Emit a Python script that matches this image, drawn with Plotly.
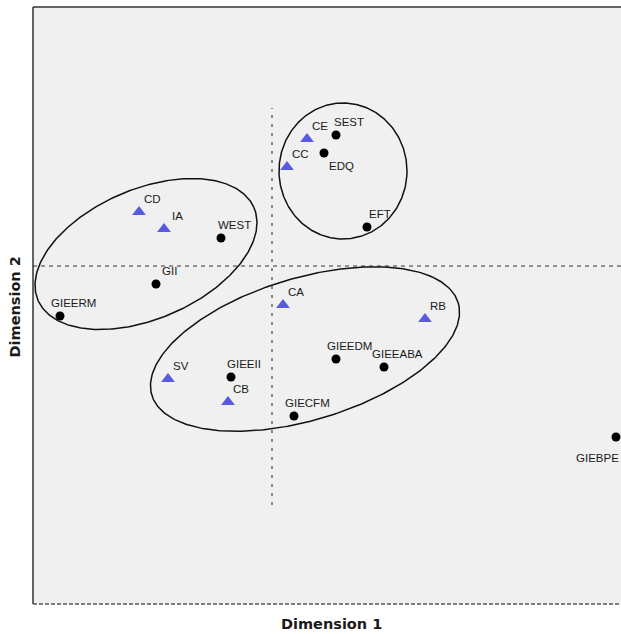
import numpy as np
import plotly.graph_objects as go

# ---- data: object-point coordinates (Dimension 1, Dimension 2) ----
circle_labels = ["WEST", "GII", "GIEERM", "SEST", "EDQ", "EFT", "GIEEDM",
                 "GIEEABA", "GIEEII", "GIECFM", "GIEBPE"]
circle_dim1 = [-0.51, -1.16, -2.12, 0.64, 0.52, 0.95, 0.64, 1.12, -0.41, 0.22, 3.44]
circle_dim2 = [0.28, -0.18, -0.50, 1.31, 1.13, 0.39, -0.93, -1.01, -1.11, -1.50, -1.71]

triangle_labels = ["CD", "IA", "CE", "CC", "CA", "RB", "SV", "CB"]
triangle_dim1 = [-1.33, -1.08, 0.35, 0.15, 0.11, 1.53, -1.04, -0.44]
triangle_dim2 = [0.54, 0.37, 1.27, 0.99, -0.39, -0.53, -1.13, -1.36]

# ---- styling / layout helpers (not data) ----
DEFAULT_SHIFT = (13, 13)
SHIFT_OVERRIDES = {"EDQ": (17, -13), "GIEBPE": (-19, -21)}

# group ellipses: centre x, centre y, semi-major, semi-minor, angle (deg)
ellipses = [
    (-1.26, 0.12, 1.175, 0.649, 23.2),
    (0.71, 0.95, 0.64, 0.68, 0.0),
    (0.33, -0.83, 1.60, 0.71, 16.8),
]

X_RANGE = [-2.39, 3.49]
Y_RANGE = [-3.38, 2.59]
VLINE_EXTENT = [-2.39, 1.58]

fig = go.Figure()

t = np.linspace(0, 2 * np.pi, 361)
for cx, cy, a, b, ang in ellipses:
    th = np.deg2rad(ang)
    ex = cx + a * np.cos(t) * np.cos(th) - b * np.sin(t) * np.sin(th)
    ey = cy + a * np.cos(t) * np.sin(th) + b * np.sin(t) * np.cos(th)
    fig.add_trace(go.Scatter(x=ex, y=ey, mode="lines",
                             line=dict(color="#111111", width=1.5),
                             hoverinfo="skip", showlegend=False))

fig.add_trace(go.Scatter(x=circle_dim1, y=circle_dim2, mode="markers",
                         marker=dict(symbol="circle", size=9, color="#000000"),
                         text=circle_labels, showlegend=False))
fig.add_trace(go.Scatter(x=triangle_dim1, y=triangle_dim2, mode="markers",
                         marker=dict(symbol="triangle-up", size=12, color="#5a5ae0",
                                     line=dict(width=0)),
                         text=triangle_labels, showlegend=False))

annotations = []
for labs, xs, ys in [(circle_labels, circle_dim1, circle_dim2),
                     (triangle_labels, triangle_dim1, triangle_dim2)]:
    for lab, x, y in zip(labs, xs, ys):
        dx, dy = SHIFT_OVERRIDES.get(lab, DEFAULT_SHIFT)
        annotations.append(dict(x=x, y=y, xref="x", yref="y", text=lab,
                                showarrow=False, xshift=dx, yshift=dy,
                                font=dict(family="Liberation Sans, Arial", size=11.5,
                                          color="#1a1a1a")))

annotations.append(dict(x=0.5077, y=-0.0335, xref="paper", yref="paper",
                        text="<b>Dimension 1</b>", showarrow=False,
                        xanchor="center", yanchor="middle",
                        font=dict(family="DejaVu Sans", size=14.5, color="#1a1a1a")))
annotations.append(dict(x=-0.0298, y=0.4975, xref="paper", yref="paper",
                        text="<b>Dimension 2</b>", showarrow=False, textangle=-90,
                        xanchor="center", yanchor="middle",
                        font=dict(family="DejaVu Sans", size=14.5, color="#1a1a1a")))

shapes = [
    # reference lines through the origin
    dict(type="line", xref="x", yref="paper", x0=0, x1=0,
         y0=(VLINE_EXTENT[0] - Y_RANGE[0]) / (Y_RANGE[1] - Y_RANGE[0]),
         y1=(VLINE_EXTENT[1] - Y_RANGE[0]) / (Y_RANGE[1] - Y_RANGE[0]),
         line=dict(color="#888888", width=2, dash="3px,6px"), layer="below"),
    dict(type="line", xref="paper", yref="y", x0=0, x1=1, y0=0, y1=0,
         line=dict(color="#333333", width=1, dash="4px,4px"), layer="below"),
    # frame
    dict(type="line", xref="paper", yref="paper", x0=0, x1=0, y0=0, y1=1,
         line=dict(color="#333333", width=1.5)),
    dict(type="line", xref="paper", yref="paper", x0=0, x1=1, y0=1, y1=1,
         line=dict(color="#333333", width=1.5)),
    dict(type="line", xref="paper", yref="paper", x0=0, x1=1, y0=0, y1=0,
         line=dict(color="#555555", width=1.5, dash="4px,2px")),
]

fig.update_layout(
    width=621, height=634,
    margin=dict(l=33, r=0, t=7, b=30),
    paper_bgcolor="white",
    plot_bgcolor="#f0f0f0",
    annotations=annotations,
    shapes=shapes,
    showlegend=False,
)
fig.update_xaxes(range=X_RANGE, showgrid=False, zeroline=False, showticklabels=False,
                 ticks="", showline=False)
fig.update_yaxes(range=Y_RANGE, showgrid=False, zeroline=False, showticklabels=False,
                 ticks="", showline=False)

# remove the default page margin so the 621x634 figure fills the window exactly
fig.write_html(
    "out.html",
    config={"displayModeBar": False},
    post_script="document.body.style.margin='0';"
                "document.documentElement.style.overflow='hidden';"
                "document.body.style.overflow='hidden';",
)
